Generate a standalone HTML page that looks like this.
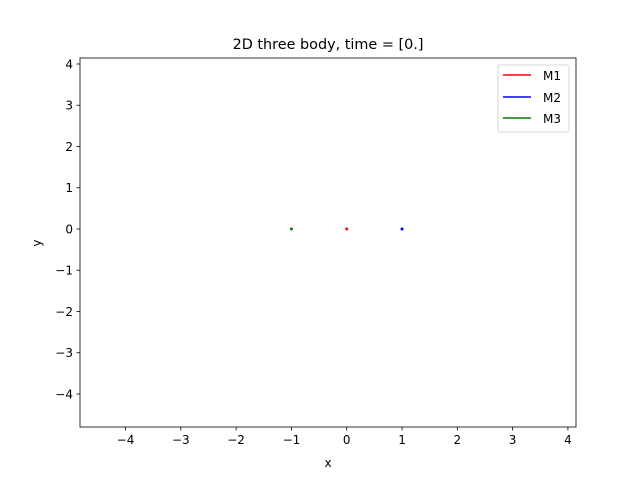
<!DOCTYPE html>
<html><head><meta charset="utf-8"><style>
body{margin:0;background:#fff;}
svg text{font-family:"DejaVu Sans","Liberation Sans",sans-serif;fill:#000;}
</style></head><body>
<svg width="640" height="480" id="c">
<rect width="640" height="480" fill="#fff"/>
<text x="328" y="49" font-size="14.4" text-anchor="middle">2D three body, time = [0.]</text>
<g id="plot"></g>
<rect x="80" y="58" width="496" height="369" fill="none" stroke="#000" stroke-width="0.8"/>
<text x="328" y="467" font-size="12" text-anchor="middle">x</text>
<text x="41" y="243" font-size="12" text-anchor="middle" transform="rotate(-90 41 243)">y</text>
<g>
<rect x="498" y="65" width="71" height="67" rx="2" fill="#fff" stroke="#ccc" stroke-width="0.8"/>
<g><line x1="503" y1="75" x2="531" y2="75" stroke="red" stroke-width="1.5"/><text x="543" y="80" font-size="12">M1</text></g>
<g><line x1="503" y1="97" x2="531" y2="97" stroke="blue" stroke-width="1.5"/><text x="543" y="102" font-size="12">M2</text></g>
<g><line x1="503" y1="118" x2="531" y2="118" stroke="green" stroke-width="1.5"/><text x="543" y="123" font-size="12">M3</text></g>
</g>
</svg>
<script>
const xTicks=[-4,-3,-2,-1,0,1,2,3,4];
const yTicks=[-4,-3,-2,-1,0,1,2,3,4];
const bodyNames=['M1','M2','M3'];
const bodyX=[0,1,-1];
const bodyY=[0,0,0];
const bodyColors=['red','blue','green'];
const X0=80,X1=576,Y0=58,Y1=427,xmin=-4.823,xmax=4.146,ymin=-4.80,ymax=4.145;
const sx=v=>X0+(v-xmin)/(xmax-xmin)*(X1-X0);
const sy=v=>Y1-(v-ymin)/(ymax-ymin)*(Y1-Y0);
const NS='http://www.w3.org/2000/svg';
const g=document.getElementById('plot');
function mk(t,a){const e=document.createElementNS(NS,t);for(const k in a)e.setAttribute(k,a[k]);g.appendChild(e);return e;}
xTicks.forEach(v=>{
 const x=sx(v);
 const l=mk('line',{x1:x,x2:x,y1:Y1,y2:Y1+3.5,stroke:'#000','stroke-width':0.8});
 
 
 const t=mk('text',{x:x,y:Y1+17,'font-size':12,'text-anchor':'middle'});
 t.textContent=v<0?'\u2212'+(-v):String(v);
 
 
});
yTicks.forEach(v=>{
 const y=sy(v);
 const l=mk('line',{x1:X0-3.5,x2:X0,y1:y,y2:y,stroke:'#000','stroke-width':0.8});
 
 
 const t=mk('text',{x:X0-7,y:y+4.5,'font-size':12,'text-anchor':'end'});
 t.textContent=v<0?'\u2212'+(-v):String(v);
 
 
});
bodyX.forEach((v,i)=>{
 const c=mk('circle',{cx:sx(v),cy:sy(bodyY[i]),r:1.5,fill:bodyColors[i]});
 
 
});
</script>
</body></html>
